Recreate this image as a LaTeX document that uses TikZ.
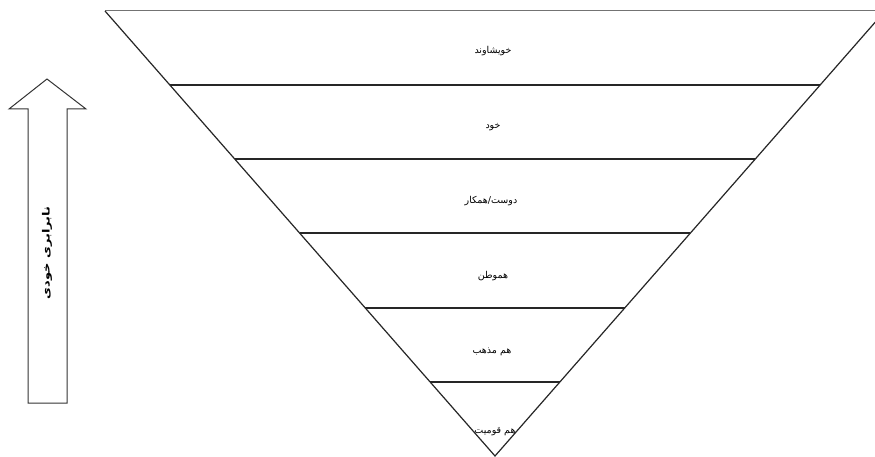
\documentclass[tikz,border=0pt]{standalone}
\usepackage{fontspec}
\TeXXeTstate=1
\newfontfamily\arabicfont[Script=Arabic]{DejaVu Sans}
\begin{document}
\begin{tikzpicture}[x=1pt,y=-1pt,
  edge/.style={draw=black!85,line width=1.2pt},
  level/.style={draw=black!85,line width=1.4pt},
  lbl/.style={font=\arabicfont\fontsize{9.5}{11}\selectfont,inner sep=1pt},
  arrowlbl/.style={font=\arabicfont\bfseries\fontsize{10}{12}\selectfont,inner sep=1pt,rotate=90,xscale=1.3,transform shape}]
\useasboundingbox (0,0) rectangle (875,457);
\clip (0,0) rectangle (875,457);
\fill[white] (0,0) rectangle (875,457);
% triangle corners
\coordinate (TL) at (105,11);
\coordinate (TR) at (885,11);
\coordinate (AP) at (495,456);
\draw[draw=black!55,line width=1pt] (TL) -- (TR);
\draw[edge] (TL) -- (AP) -- (TR);
% levels
\coordinate (l1a) at (170,85);  \coordinate (l1b) at (820,85);
\coordinate (l2a) at (235,159); \coordinate (l2b) at (755,159);
\coordinate (l3a) at (300,233); \coordinate (l3b) at (690,233);
\coordinate (l4a) at (365,308); \coordinate (l4b) at (625,308);
\coordinate (l5a) at (430,382); \coordinate (l5b) at (560,382);
\draw[level] (l1a) -- (l1b);
\draw[level] (l2a) -- (l2b);
\draw[level] (l3a) -- (l3b);
\draw[level] (l4a) -- (l4b);
\draw[level] (l5a) -- (l5b);
% labels
\node[lbl] (t1) at (493,51) {\beginR خویشاوند\endR};
\node[lbl] (t2) at (493,127) {\beginR خود\endR};
\node[lbl] (t3) at (491,201) {\beginR دوست/همکار\endR};
\node[lbl] (t4) at (493,276) {\beginR هموطن\endR};
\node[lbl] (t5) at (492,352) {\beginR هم مذهب\endR};
\node[lbl] (t6) at (495,432) {\beginR هم قومیت\endR};
% block arrow
\draw[draw=black!80,line width=1pt,fill=white]
  (28,403) -- (28,109) -- (9,109) -- (47,79) -- (86,109) -- (67,109) -- (67,403) -- cycle;
\node[arrowlbl] (al) at (47,253) {\beginR نابرابری خودی\endR};
\end{tikzpicture}
\end{document}
